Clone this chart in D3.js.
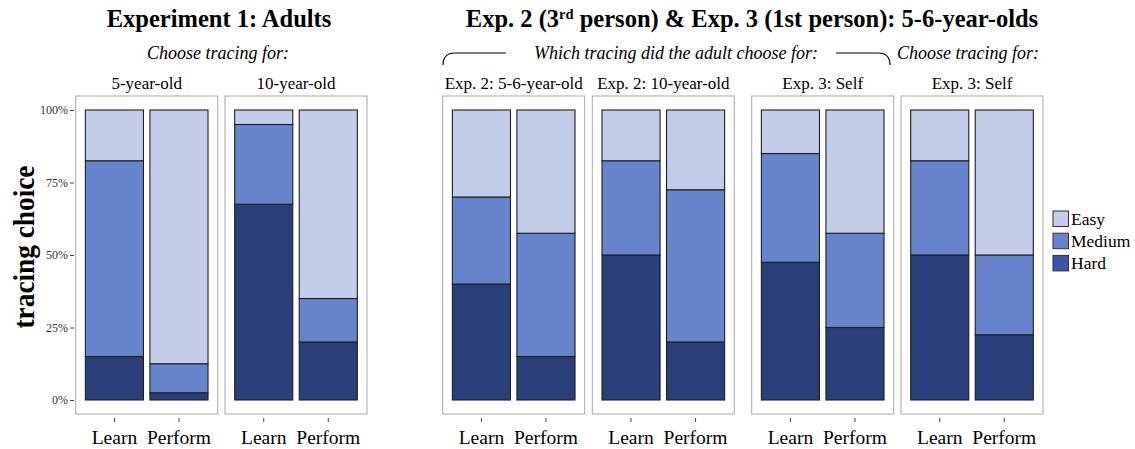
<!DOCTYPE html>
<meta charset="utf-8">
<style>
body {
	margin: 0;
	background: white;
}
text {
	font-family: "Liberation Serif", "Times New Roman", serif;
	fill: black;
}
.panel {
	fill: white;
	stroke: #a8a8a8;
	stroke-width: 1px;
}
.bar {
	stroke: #1f1f1f;
	stroke-width: 1.1px;
}
.axis path.domain {
	display: none;
}
.axis line {
	stroke: #444;
}
.yaxis text {
	font-size: 12px;
	fill: #333;
}
.xaxis text {
	font-size: 19.5px;
	fill: black;
}
</style>
<html>
	<head>
		<script src="https://cdn.jsdelivr.net/npm/d3@7"></script>
	</head>
	<body>
		<svg id="chart"></svg>

<script>
'use strict'

// data (percent of tracing choices), one pair per panel: [Learn, Perform]
const panelLabels = ["5-year-old", "10-year-old", "Exp. 2: 5-6-year-old", "Exp. 2: 10-year-old", "Exp. 3: Self", "Exp. 3: Self"]
const phases      = ["Learn", "Perform"]
const levels      = ["Hard", "Medium", "Easy"]
const hard        = [[15, 2.5], [67.5, 20], [40, 15], [50, 20], [47.5, 25], [50, 22.5]]
const medium      = [[67.5, 10], [27.5, 15], [30, 42.5], [32.5, 52.5], [37.5, 32.5], [32.5, 27.5]]
const easy        = [[17.5, 87.5], [5, 65], [30, 42.5], [17.5, 27.5], [15, 42.5], [17.5, 50]]
const yTicks      = [0, 0.25, 0.5, 0.75, 1]

const width  = 1135,
      height = 449

// layout
const panelLefts = [75.7, 225, 442.7, 592.3, 751.7, 901]
const panelWidth = 142
const panelTop   = 96,
      panelBot   = 414

const barColors    = {Easy: "#c3cde9", Medium: "#6783cb", Hard: "#2a3f7a"}
const legendColors = {Easy: "#c3cde9", Medium: "#6783cb", Hard: "#3b55a6"}

const svg = d3.select("#chart")
	.attr("width", width)
	.attr("height", height)

const y = d3.scaleLinear().domain([0, 1]).range([400, 110])

// stacked from the bottom: Hard, Medium, Easy
const stack = d3.stack().keys(levels)

panelLabels.forEach((label, p) => {
	const left = panelLefts[p]
	const g = svg.append("g")

	g.append("rect")
		.attr("class", "panel")
		.attr("x", left)
		.attr("y", panelTop)
		.attr("width", panelWidth)
		.attr("height", panelBot - panelTop)

	const x = d3.scaleBand()
		.domain(phases)
		.range([left, left + panelWidth])
		.paddingInner(0.1)
		.paddingOuter(0.15)

	const rows = phases.map((ph, i) => ({
		phase: ph,
		Hard: hard[p][i] / 100,
		Medium: medium[p][i] / 100,
		Easy: easy[p][i] / 100
	}))

	g.selectAll("g.layer")
		.data(stack(rows))
		.enter().append("g")
			.attr("class", "layer")
			.attr("fill", d => barColors[d.key])
		.selectAll("rect")
		.data(d => d)
		.enter().append("rect")
			.attr("class", "bar")
			.attr("x", d => x(d.data.phase))
			.attr("width", x.bandwidth())
			.attr("y", d => y(d[1]))
			.attr("height", d => y(d[0]) - y(d[1]))

	// strip label
	g.append("text")
		.attr("x", left + panelWidth / 2)
		.attr("y", 89)
		.attr("text-anchor", "middle")
		.style("font-size", "17px")
		.text(label)

	// x axis
	g.append("g")
		.attr("class", "axis xaxis")
		.attr("transform", "translate(0," + 418 + ")")
		.call(d3.axisBottom(x).tickSize(4).tickPadding(8.5))
})

// y axis on the first panel
svg.append("g")
	.attr("class", "axis yaxis")
	.attr("transform", "translate(74,0)")
	.call(d3.axisLeft(y).tickValues(yTicks).tickFormat(d3.format(".0%")).tickSize(4).tickPadding(2))

// y title
svg.append("text")
	.attr("transform", "translate(34,247) rotate(-90) scale(0.91,1)")
	.attr("text-anchor", "middle")
	.style("font-size", "30px")
	.style("font-weight", "bold")
	.text("tracing choice")

// titles
svg.append("text")
	.attr("x", 219)
	.attr("y", 27)
	.attr("text-anchor", "middle")
	.style("font-size", "24.5px")
	.style("font-weight", "bold")
	.text("Experiment 1: Adults")

const t2 = svg.append("text")
	.attr("x", 752)
	.attr("y", 27)
	.attr("text-anchor", "middle")
	.style("font-size", "24.5px")
	.style("font-weight", "bold")
t2.append("tspan").text("Exp. 2 (3")
t2.append("tspan").attr("dy", -8).style("font-size", "14.5px").text("rd")
t2.append("tspan").attr("dy", 8).text(" person) & Exp. 3 (1st person): 5-6-year-olds")

// subtitles
const subtitles = [
	{text: "Choose tracing for:", x: 218},
	{text: "Which tracing did the adult choose for:", x: 676},
	{text: "Choose tracing for:", x: 968}
]
svg.selectAll("text.sub")
	.data(subtitles)
	.enter().append("text")
		.attr("class", "sub")
		.attr("x", d => d.x)
		.attr("y", 59)
		.attr("text-anchor", "middle")
		.style("font-size", "18px")
		.style("font-style", "italic")
		.text(d => d.text)

// bracket over the panels the adult chose for
svg.append("path")
	.attr("d", "M443,65 Q443,53 455,53 L506,53")
	.attr("fill", "none")
	.attr("stroke", "black")
	.attr("stroke-width", 1.2)
svg.append("path")
	.attr("d", "M836,53 L878,53 Q890,53 890,65")
	.attr("fill", "none")
	.attr("stroke", "black")
	.attr("stroke-width", 1.2)

// legend
const legend = svg.append("g")
	.attr("transform", "translate(1053,211)")
const legendItems = legend.selectAll("g")
	.data(["Easy", "Medium", "Hard"])
	.enter().append("g")
		.attr("transform", (d, i) => "translate(0," + i * 22.2 + ")")
legendItems.append("rect")
	.attr("width", 15.5)
	.attr("height", 15.5)
	.attr("fill", d => legendColors[d])
	.attr("stroke", "#333")
	.attr("stroke-width", 1)
legendItems.append("text")
	.attr("x", 18)
	.attr("y", 14)
	.style("font-size", "17.5px")
	.text(d => d)
</script>

	</body>
</html>
